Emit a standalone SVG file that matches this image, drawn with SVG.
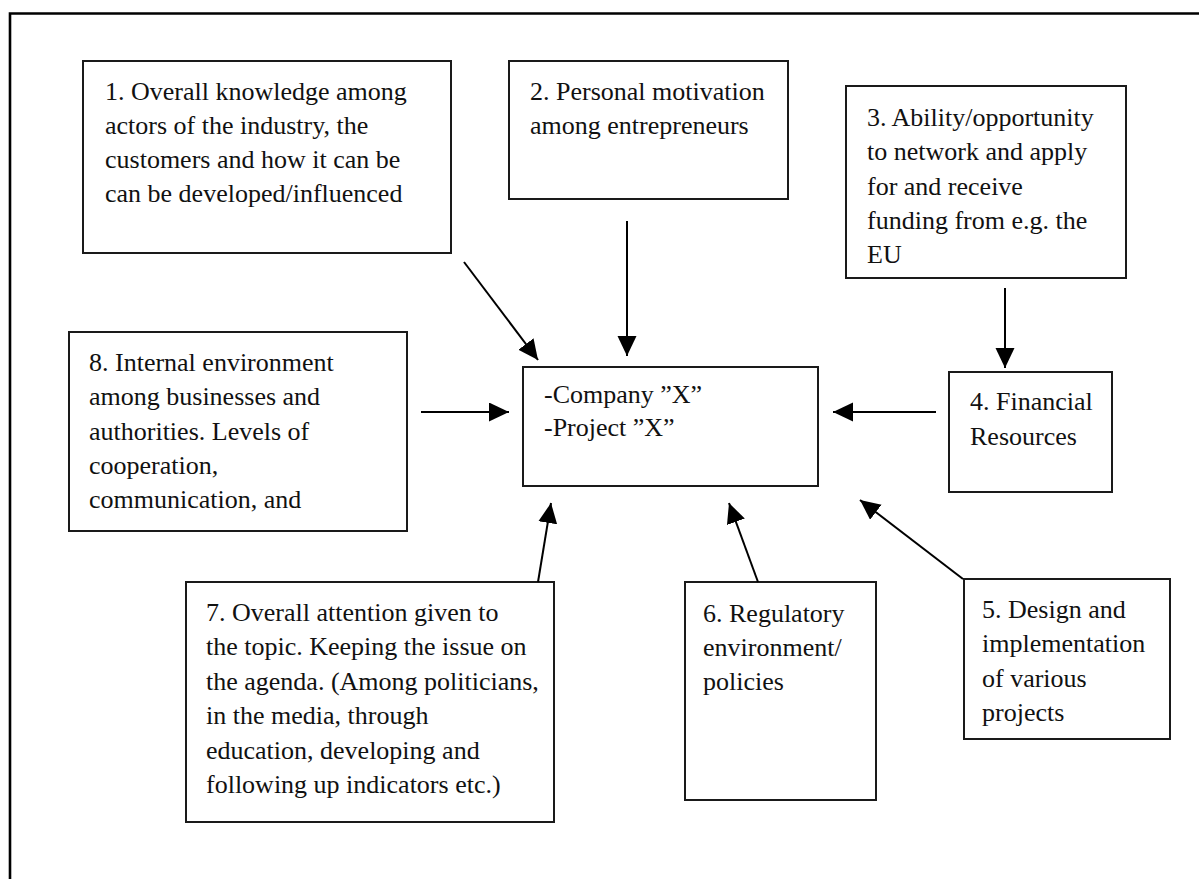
<svg xmlns="http://www.w3.org/2000/svg" width="1199" height="879" viewBox="0 0 1199 879">
  <style>
    .box { fill: #ffffff; stroke: #1a1a1a; stroke-width: 2; }
    .lbl { font-family: "Liberation Serif", "Times New Roman", serif; font-size: 26px; fill: #111111; }
    .link { stroke: #000000; stroke-width: 2; fill: none; marker-end: url(#head); }
    .frame { stroke: #000000; stroke-width: 2.6; fill: none; }
  </style>
  <defs>
    <marker id="head" markerUnits="userSpaceOnUse" markerWidth="21" markerHeight="20" refX="20" refY="9.5" orient="auto">
      <path d="M0,0 L20,9.5 L0,19 z" fill="#000000"/>
    </marker>
  </defs>

  <rect width="1199" height="879" fill="#ffffff"/>
  <!-- page frame (only top and left edges fall inside the canvas) -->
  <path class="frame" d="M10,879 V13.5 H1199"/>

  <g id="node-1">
    <rect class="box" x="83" y="61" width="368" height="192"/>
    <text class="lbl" x="105" y="99.5">1. Overall knowledge among</text>
    <text class="lbl" x="105" y="134">actors of the industry, the</text>
    <text class="lbl" x="105" y="168">customers and how it can be</text>
    <text class="lbl" x="105" y="202">can be developed/influenced</text>
  </g>

  <g id="node-2">
    <rect class="box" x="509" y="61" width="279" height="138"/>
    <text class="lbl" x="530" y="99.5">2. Personal motivation</text>
    <text class="lbl" x="530" y="134">among entrepreneurs</text>
  </g>

  <g id="node-3">
    <rect class="box" x="846" y="86" width="280" height="192"/>
    <text class="lbl" x="867" y="126">3. Ability/opportunity</text>
    <text class="lbl" x="867" y="160">to network and apply</text>
    <text class="lbl" x="867" y="195">for and receive</text>
    <text class="lbl" x="867" y="229">funding from e.g. the</text>
    <text class="lbl" x="867" y="263">EU</text>
  </g>

  <g id="node-8">
    <rect class="box" x="69" y="332" width="338" height="199"/>
    <text class="lbl" x="89" y="371">8. Internal environment</text>
    <text class="lbl" x="89" y="405">among businesses and</text>
    <text class="lbl" x="89" y="440">authorities. Levels of</text>
    <text class="lbl" x="89" y="474">cooperation,</text>
    <text class="lbl" x="89" y="508">communication, and</text>
  </g>

  <g id="node-center">
    <rect class="box" x="523" y="367" width="295" height="119"/>
    <text class="lbl" x="544" y="403">-Company ”X”</text>
    <text class="lbl" x="544" y="436">-Project ”X”</text>
  </g>

  <g id="node-4">
    <rect class="box" x="949" y="372" width="163" height="120"/>
    <text class="lbl" x="970" y="410">4. Financial</text>
    <text class="lbl" x="970" y="445">Resources</text>
  </g>

  <g id="node-7">
    <rect class="box" x="186" y="582" width="368" height="240"/>
    <text class="lbl" x="206" y="621">7. Overall attention given to</text>
    <text class="lbl" x="206" y="655">the topic. Keeping the issue on</text>
    <text class="lbl" x="206" y="690">the agenda. (Among politicians,</text>
    <text class="lbl" x="206" y="724">in the media, through</text>
    <text class="lbl" x="206" y="759">education, developing and</text>
    <text class="lbl" x="206" y="793">following up indicators etc.)</text>
  </g>

  <g id="node-6">
    <rect class="box" x="685" y="582" width="191" height="218"/>
    <text class="lbl" x="703" y="622">6. Regulatory</text>
    <text class="lbl" x="703" y="656">environment/</text>
    <text class="lbl" x="703" y="690">policies</text>
  </g>

  <g id="node-5">
    <rect class="box" x="964" y="579" width="206" height="160"/>
    <text class="lbl" x="982" y="618">5. Design and</text>
    <text class="lbl" x="982" y="652">implementation</text>
    <text class="lbl" x="982" y="687">of various</text>
    <text class="lbl" x="982" y="721">projects</text>
  </g>

  <g id="connectors">
    <line class="link" x1="464" y1="262" x2="538" y2="360"/>
    <line class="link" x1="627" y1="221" x2="627" y2="356"/>
    <line class="link" x1="1005" y1="288" x2="1005" y2="368"/>
    <line class="link" x1="421" y1="412" x2="509" y2="412"/>
    <line class="link" x1="936" y1="412" x2="833" y2="412"/>
    <line class="link" x1="538" y1="582" x2="551" y2="503"/>
    <line class="link" x1="758" y1="582" x2="729" y2="503"/>
    <line class="link" x1="963" y1="579" x2="860" y2="500"/>
  </g>
</svg>
